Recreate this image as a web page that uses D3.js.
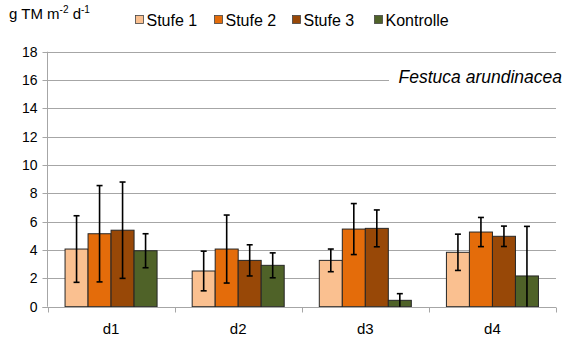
<!DOCTYPE html>
<html><head><meta charset="utf-8">
<script src="https://cdn.jsdelivr.net/npm/d3@7"></script>
<style>body{margin:0;background:#fff}svg{display:block;font-family:"Liberation Sans",Arial,sans-serif}</style>
</head><body><svg id="c" width="567" height="346"></svg>
<script>
const categories = ["d1","d2","d3","d4"];
const seriesNames = ["Stufe 1","Stufe 2","Stufe 3","Kontrolle"];
const colors = ["#FAC090","#E46C0A","#984807","#4F6228"];
const stufe1 = [4.07, 2.52, 3.27, 3.84];
const stufe2 = [5.15, 4.07, 5.48, 5.27];
const stufe3 = [5.40, 3.27, 5.53, 4.97];
const kontrolle = [3.95, 2.92, 0.45, 2.17];
const err1 = [2.35, 1.40, 0.80, 1.28];
const err2 = [3.40, 2.40, 1.80, 1.03];
const err3 = [3.40, 1.10, 1.30, 0.72];
const errK = [1.20, 0.88, 0.47, 3.50];
const yTicks = [0,2,4,6,8,10,12,14,16,18];

const values = [stufe1, stufe2, stufe3, kontrolle];
const errs = [err1, err2, err3, errK];

const svg = d3.select("#c");
const L = 47.5, R = 556, T = 51.7, B = 306.7;
const y = d3.scaleLinear().domain([0,18]).range([B,T]);
const x0 = d3.scaleBand().domain(categories).range([L,R]);
const x1 = d3.scaleBand().domain(seriesNames).range([0,x0.bandwidth()]).paddingOuter(0.763);

// gridlines
svg.append("g").selectAll("line").data(yTicks.filter(d=>d>0)).join("line")
  .attr("x1",L).attr("x2",R).attr("y1",d=>Math.round(y(d))+0.5).attr("y2",d=>Math.round(y(d))+0.5)
  .attr("stroke","#a6a6a6").attr("stroke-width",1);

// y axis
const ya = svg.append("g").attr("transform",`translate(${L},0)`)
  .call(d3.axisLeft(y).tickValues(yTicks).tickSize(5).tickPadding(5).tickFormat(d3.format("d")));
ya.select(".domain").attr("stroke","#a6a6a6").attr("d",`M0,${T}V${B}`);
ya.selectAll(".tick line").attr("stroke","#a6a6a6");
ya.selectAll(".tick").attr("transform",d=>`translate(0,${Math.round(y(d))+0.5})`);
ya.selectAll("text").attr("font-size",14).attr("fill","#000").attr("font-family","Liberation Sans, Arial, sans-serif");

// bars
const groups = svg.append("g").selectAll("g").data(categories).join("g")
  .attr("transform",d=>`translate(${x0(d)},0)`);
seriesNames.forEach((s,si)=>{
  groups.append("rect")
    .attr("x",(d,i)=>x1(s))
    .attr("width",x1.bandwidth())
    .attr("y",(d,i)=>y(values[si][i]))
    .attr("height",(d,i)=>B-y(values[si][i]))
    .attr("fill",colors[si]).attr("stroke","#262626").attr("stroke-width",1);
});
// error bars
seriesNames.forEach((s,si)=>{
  groups.each(function(d,i){
    const g = d3.select(this);
    const cx = x1(s)+x1.bandwidth()/2;
    const v = values[si][i], e = errs[si][i];
    const top = y(v+e), bot = y(Math.max(0,v-e));
    g.append("line").attr("x1",cx).attr("x2",cx).attr("y1",top).attr("y2",bot).attr("stroke","#000").attr("stroke-width",1.6);
    g.append("line").attr("x1",cx-3).attr("x2",cx+3).attr("y1",top).attr("y2",top).attr("stroke","#000").attr("stroke-width",1.6);
    if (v-e>0) g.append("line").attr("x1",cx-3).attr("x2",cx+3).attr("y1",bot).attr("y2",bot).attr("stroke","#000").attr("stroke-width",1.6);
  });
});

// x axis
const xa = svg.append("g").attr("transform",`translate(0,${Math.round(B)+0.5})`);
xa.append("line").attr("x1",L-5).attr("x2",R).attr("stroke","#a6a6a6");
const bounds = categories.map(c=>x0(c)).concat([R]);
xa.selectAll("line.t").data(bounds).join("line").attr("class","t")
  .attr("x1",d=>Math.round(d)+0.5).attr("x2",d=>Math.round(d)+0.5).attr("y1",0).attr("y2",5).attr("stroke","#a6a6a6");
xa.selectAll("text").data(categories).join("text")
  .attr("x",d=>x0(d)+x0.bandwidth()/2).attr("y",26).attr("text-anchor","middle")
  .attr("font-size",15).text(d=>d);

// y title
const t = svg.append("text").attr("x",9).attr("y",19).attr("font-size",15);
t.append("tspan").text("g TM m");
t.append("tspan").attr("dy",-6).attr("font-size",10).text("-2");
t.append("tspan").attr("dy",6).text(" d");
t.append("tspan").attr("dy",-6).attr("font-size",10).text("-1");

// legend
const legX = [135.5, 214.5, 292.5, 374.5];
const lg = svg.append("g").selectAll("g").data(seriesNames).join("g")
  .attr("transform",(d,i)=>`translate(${legX[i]},20)`);
lg.append("rect").attr("x",0).attr("y",-4.5).attr("width",8).attr("height",8)
  .attr("fill",(d,i)=>colors[i]).attr("stroke","#444").attr("stroke-width",0.8);
lg.append("text").attr("x",11).attr("y",5.5).attr("font-size",16).text(d=>d);

// annotation (white box hides gridline behind it)
svg.append("rect").attr("x",389).attr("y",67).attr("width",R-389+1).attr("height",22).attr("fill","#fff");
svg.append("text").attr("x",562).attr("y",83).attr("text-anchor","end")
  .attr("font-size",17.5).attr("font-style","italic").text("Festuca arundinacea");
</script></body></html>
